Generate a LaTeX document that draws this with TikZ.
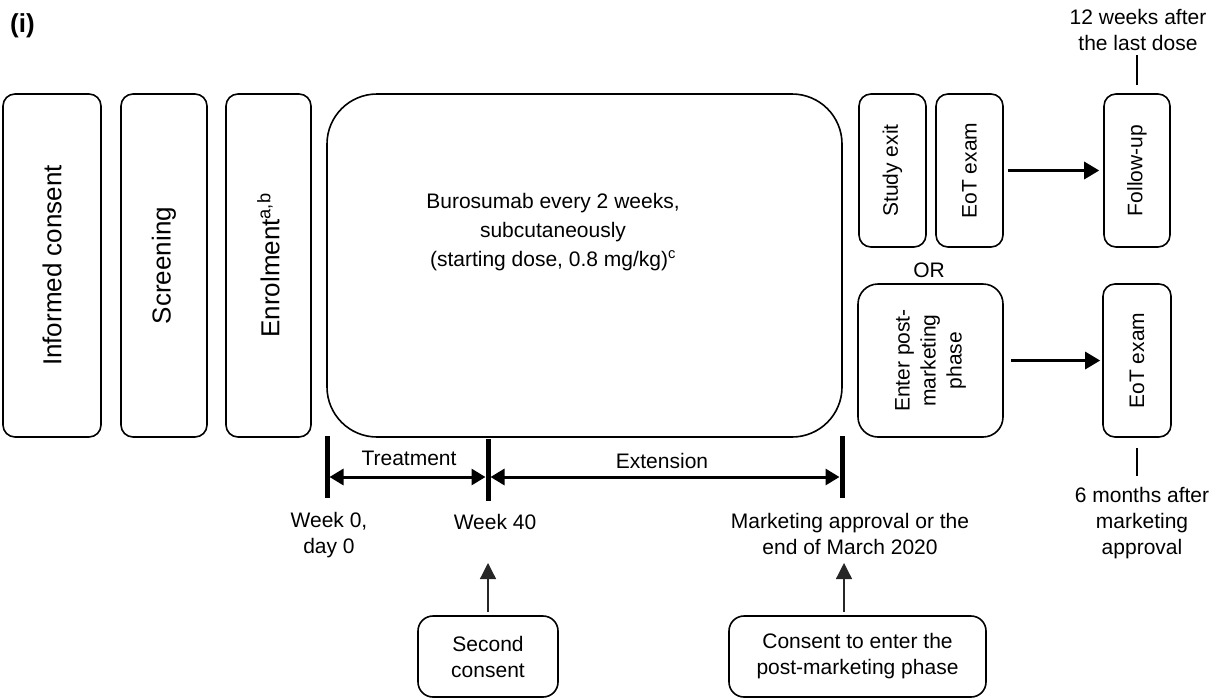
\documentclass[tikz,border=0pt]{standalone}
\usepackage{fontspec}
\setmainfont{Liberation Sans}
\usetikzlibrary{arrows.meta}
\begin{document}
\begin{tikzpicture}[x=1pt,y=-1pt,
  box/.style={draw, line width=1.6pt, rounded corners=12pt, inner sep=0pt, align=center, font=\fontsize{21}{26}\selectfont},
  bigfont/.style={font=\fontsize{26}{30}\selectfont},
  lbl/.style={align=center, inner sep=0pt, font=\fontsize{21}{26}\selectfont},
  tickline/.style={line width=5pt},
  span/.style={line width=3pt, {Triangle[length=14pt,width=16pt]}-{Triangle[length=14pt,width=16pt]}},
  flow/.style={line width=3pt, -{Triangle[length=15pt,width=17pt]}},
  uparrow/.style={line width=1.3pt, draw=black!85, -{Triangle[length=16pt,width=16pt]}},
  thinline/.style={line width=1.3pt}
]
\useasboundingbox (0,0) rectangle (1214,699);

\node[inner sep=0pt, font=\fontsize{26}{30}\selectfont\bfseries] (lab) at (22.5,26) {(i)};

% left boxes
\node[box, bigfont, minimum width=98pt, minimum height=343pt] (ic) at (52,265.5) {\rotatebox{90}{Informed consent}};
\node[box, bigfont, minimum width=86pt, minimum height=343pt] (scr) at (164,265.5) {\rotatebox{90}{Screening}};
\node[box, bigfont, minimum width=85pt, minimum height=343pt] (enr) at (268.5,265.5) {\rotatebox{90}{Enrolment\textsuperscript{a,b}}};

% treatment box
\node[box, rounded corners=50pt, minimum width=515pt, minimum height=343pt] (trt) at (584.5,265.5) {};
\node[lbl, font=\fontsize{21}{29}\selectfont] (trttxt) at (553,232) {Burosumab every 2 weeks,\\subcutaneously\\(starting dose, 0.8 mg/kg)\textsuperscript{c}};

% right side
\node[box, minimum width=67pt, minimum height=153pt] (exit) at (892.5,170.5) {\rotatebox{90}{Study exit}};
\node[box, minimum width=67pt, minimum height=153pt] (eot1) at (969.5,170.5) {\rotatebox{90}{EoT exam}};
\node[box, minimum width=66pt, minimum height=153pt] (fu) at (1137,170.5) {\rotatebox{90}{Follow-up}};
\node[lbl] (or) at (929,270) {OR};
\node[box, rounded corners=20pt, minimum width=145pt, minimum height=153pt] (epm) at (930.5,360.5) {\rotatebox{90}{\begin{tabular}{@{}c@{}}Enter post-\\marketing\\phase\end{tabular}}};
\node[box, minimum width=68pt, minimum height=153pt] (eot2) at (1137,360.5) {\rotatebox{90}{EoT exam}};

\draw[flow, shorten <=4pt, shorten >=4pt] (eot1.east) -- (fu.west);
\draw[flow, shorten <=7pt, shorten >=2pt] (epm.east) -- (eot2.west);

\node[lbl] (fut) at (1138,29.5) {12 weeks after\\the last dose};
\draw[thinline, shorten <=8pt, shorten >=5pt] (fu.north) -- (fu.north |- fut.south);
\node[lbl] (eot2t) at (1142,523) {6 months after\\marketing\\approval};
\draw[thinline, shorten <=10pt, shorten >=11pt] (eot2.south) -- (eot2.south |- eot2t.north);

% timeline
\coordinate (t1a) at (327,436); \coordinate (t1b) at (327,498);
\coordinate (t2a) at (488,439); \coordinate (t2b) at (488,501);
\coordinate (t3a) at (842,436); \coordinate (t3b) at (842,498);
\draw[tickline] (t1a) -- (t1b);
\draw[tickline] (t2a) -- (t2b);
\draw[tickline] (t3a) -- (t3b);
\coordinate (s1) at (327,477); \coordinate (s2) at (488,477); \coordinate (s3) at (842,477);
\draw[span, shorten <=2.5pt, shorten >=2.5pt] (s1) -- (s2);
\draw[span, shorten <=2.5pt, shorten >=2.5pt] (s2) -- (s3);
\node[lbl] (tl) at (409,458) {Treatment};
\node[lbl] (el) at (662,461) {Extension};

\node[lbl] (w0) at (329,535) {Week 0,\\day 0};
\node[lbl] (w40) at (495,522) {Week 40};
\node[lbl] (mk) at (850,534) {Marketing approval or the\\end of March 2020};

% consents
\node[box, rounded corners=15pt, minimum width=140pt, minimum height=81pt] (sc) at (488,656.5) {Second\\consent};
\node[box, rounded corners=15pt, minimum width=257pt, minimum height=81pt] (cte) at (857.5,656.5) {Consent to enter the\\post-marketing phase};
\coordinate (a2) at (488,563);
\coordinate (a3) at (844,563);
\draw[uparrow, shorten <=3pt] (sc.north) -- (a2);
\draw[uparrow, shorten <=3pt] (a3 |- cte.north) -- (a3);
\end{tikzpicture}
\end{document}
